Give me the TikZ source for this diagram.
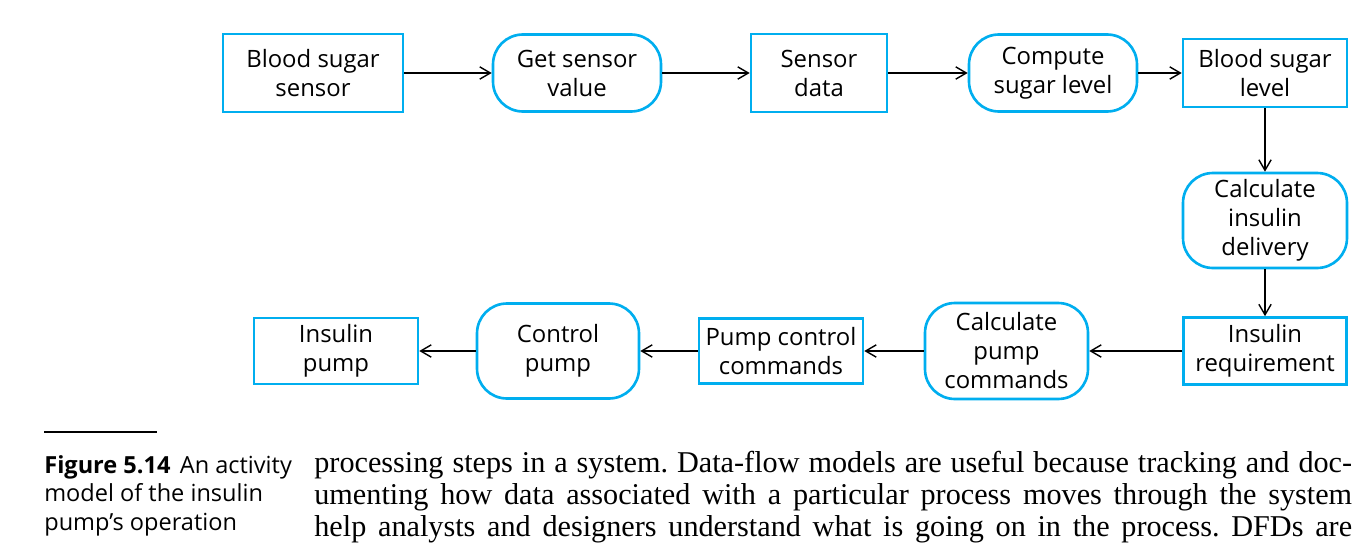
\documentclass[tikz,border=0pt]{standalone}
\usepackage{fontspec}
\setmainfont{Liberation Serif}
\setsansfont{Open Sans}
\usepackage{tikz}
\usetikzlibrary{arrows.meta}
\definecolor{pumpblue}{RGB}{0,174,239}
\colorlet{boxline}{pumpblue}
\tikzset{
  every box/.style={draw=boxline,line width=1.5pt,inner sep=0pt,align=center,
    font=\sffamily\fontsize{13.6}{16.5}\selectfont},
  datastore/.style 2 args={every box,minimum width=#1cm,minimum height=#2cm},
  activity/.style 2 args={every box,rounded corners=17pt,minimum width=#1cm,minimum height=#2cm},
  flow/.style={draw,line width=0.8pt,-{Straight Barb[length=6pt,width=7pt]}},
  figcaption/.style={inner sep=0pt,align=left,font=\sffamily\fontsize{13.4}{16.2}\selectfont},
  bodytext/.style={inner sep=0pt,align=justify,text width=20.76cm,font=\frenchspacing\fontsize{17.2}{18.3}\selectfont},
}

\begin{document}
\begin{tikzpicture}[x=0.02cm,y=-0.02cm]
\useasboundingbox (0,0) rectangle (1367,555);
\node[datastore={3.6}{1.56}] (sensor) at (313,73) {Blood sugar\\sensor};
\node[activity={3.36}{1.54}] (getval) at (577,73) {Get sensor\\value};
\node[datastore={2.72}{1.56}] (sdata) at (819,73) {Sensor\\data};
\node[activity={3.36}{1.54}] (compute) at (1053,73) {Compute\\sugar level};
\node[datastore={3.28}{1.36}] (bslevel) at (1265,73) {Blood sugar\\level};
\node[activity={3.28}{1.9}] (calcins) at (1265,220.5) {Calculate\\insulin\\delivery};
\node[datastore={3.26}{1.34}] (insreq) at (1265,351) {Insulin\\requirement};
\node[activity={3.26}{1.92}] (calcpump) at (1006.5,351) {Calculate\\pump\\commands};
\node[datastore={3.28}{1.3}] (pcc) at (781,351) {Pump control\\commands};
\node[activity={3.24}{1.9}] (ctrl) at (558,351) {Control\\pump};
\node[datastore={3.28}{1.32}] (ipump) at (336,351) {Insulin\\pump};
\foreach \from/\to in {sensor/getval, getval/sdata, sdata/compute, compute/bslevel,
  bslevel/calcins, calcins/insreq, insreq/calcpump, calcpump/pcc, pcc/ctrl, ctrl/ipump}
{
  \draw[flow] (\from) -- (\to);
}
\draw[line width=0.6pt] (44,432) -- (157,432);
\node[figcaption,anchor=north west] (figcap) at (44,455)
  {\textbf{Figure 5.14}\hspace{0.4em}An activity\\model of the insulin\\pump’s operation};
\node[bodytext,anchor=north west] (body) at (314,451)
  {processing steps in a system. Data-flow models are useful because tracking and doc-\linebreak
  umenting how data associated with a particular process moves through the system\linebreak
  help analysts and designers understand what is going on in the process. DFDs are\parfillskip=0pt\par};
\end{tikzpicture}
\end{document}
